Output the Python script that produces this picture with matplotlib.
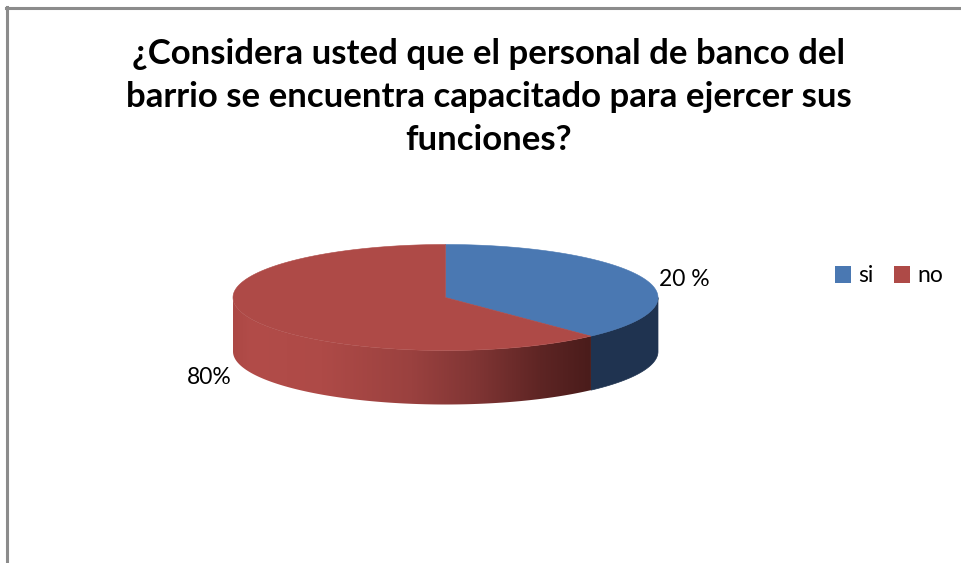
import numpy as np
import matplotlib
matplotlib.use("Agg")
import matplotlib.pyplot as plt
from matplotlib.patches import Polygon, Patch
from matplotlib.colors import LinearSegmentedColormap
from matplotlib.lines import Line2D

# ---------------- data ----------------
categories = ["si", "no"]
values = [38, 62]              # slice shares as drawn in the picture
data_labels = ["20 %", "80%"]  # labels as printed on the chart
title_lines = ["¿Considera usted que el personal de banco del",
               "barrio se encuentra capacitado para ejercer sus",
               "funciones?"]

# ---------------- style ----------------
top_colors = ["#4A78B2", "#AE4A47"]
blue_side = "#1F3350"
red_side_stops = [(0.0, "#AC4845"), (0.05, "#B24C49"), (0.25, "#AE4A47"),
                  (0.50, "#9A413F"), (0.68, "#803534"), (0.86, "#5E2524"),
                  (1.0, "#4A1C1B")]
FONT = "Lato"

W, H = 961, 563
fig = plt.figure(figsize=(W / 100, H / 100), dpi=100)
ax = fig.add_axes([0, 0, 1, 1])
ax.set_xlim(0, W)
ax.set_ylim(H, 0)
ax.axis("off")

# pie geometry (pixel units)
cx, cy = 445.5, 297.5
a, b = 212.5, 53.0
depth = 54.0


def ell(theta_deg, dy=0.0):
    t = np.radians(theta_deg)
    return cx + a * np.sin(t), cy - b * np.cos(t) + dy


vals = np.array(values, dtype=float)
bounds = np.concatenate([[0], np.cumsum(vals) / vals.sum() * 360.0])

# side faces (front half visible: 90..270 deg clockwise from top)
red_cmap = LinearSegmentedColormap.from_list("redside", red_side_stops)
for i in range(len(vals)):
    s, e = bounds[i], bounds[i + 1]
    lo, hi = max(s, 90.0), min(e, 270.0)
    if hi <= lo:
        continue
    th = np.linspace(lo, hi, 200)
    xt, yt = ell(th)
    xb, yb = ell(th[::-1], depth)
    poly = np.column_stack([np.concatenate([xt, xb]), np.concatenate([yt, yb])])
    if i == 0:
        ax.add_patch(Polygon(poly, closed=True, facecolor=blue_side,
                             edgecolor=blue_side, linewidth=0.5, zorder=2))
    else:
        p = Polygon(poly, closed=True, facecolor="none", edgecolor="none", zorder=2)
        ax.add_patch(p)
        x0, x1 = xt.min(), xt.max()
        grad = np.linspace(0, 1, 256)[None, :]
        im = ax.imshow(grad, cmap=red_cmap, aspect="auto",
                       extent=[x0, x1, yb.max() + 2, yt.min() - 2],
                       zorder=2, interpolation="bilinear")
        im.set_clip_path(p)

# top faces
for i in range(len(vals)):
    s, e = bounds[i], bounds[i + 1]
    th = np.linspace(s, e, 300)
    xs, ys = ell(th)
    poly = np.column_stack([np.concatenate([[cx], xs]), np.concatenate([[cy], ys])])
    ax.add_patch(Polygon(poly, closed=True, facecolor=top_colors[i],
                         edgecolor=top_colors[i], linewidth=0.4, zorder=3))
ax.set_xlim(0, W)
ax.set_ylim(H, 0)

# data labels
ax.text(659, 279, data_labels[0], fontsize=16.5, family=FONT, ha="left",
        va="center", color="black", zorder=5)
ax.text(232, 377, data_labels[1], fontsize=16.5, family=FONT, ha="right",
        va="center", color="black", zorder=5)

# title
for k, line in enumerate(title_lines):
    ax.text(489, 64 + 43 * k, line, fontsize=25, family=FONT,
            fontweight="bold", ha="center", va="baseline", color="black")

# legend
handles = [Patch(facecolor=top_colors[i], edgecolor="none", label=categories[i])
           for i in range(len(categories))]
fig.legend(handles=handles, loc="center", bbox_to_anchor=(889 / W, 1 - 276 / H),
           ncol=2, frameon=False, prop={"family": FONT, "size": 16.5},
           handlelength=0.7, handleheight=0.7, handletextpad=0.3,
           columnspacing=0.9, borderpad=0)

# chart border (top and left visible)
fig.add_artist(Line2D([7 / W, 7 / W], [0, 1 - 7 / H], transform=fig.transFigure,
                      color="#8C8C8C", linewidth=2.2))
fig.add_artist(Line2D([6 / W, 1], [1 - 7.5 / H, 1 - 7.5 / H], transform=fig.transFigure,
                      color="#8C8C8C", linewidth=2.2))

fig.savefig("out.png", dpi=100, facecolor="white")
